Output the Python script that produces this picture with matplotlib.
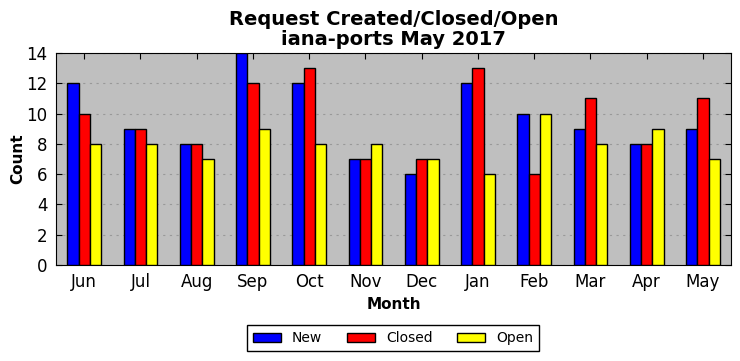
import numpy as np
import matplotlib
matplotlib.use("Agg")
import matplotlib.pyplot as plt

months = ["Jun", "Jul", "Aug", "Sep", "Oct", "Nov", "Dec", "Jan", "Feb", "Mar", "Apr", "May"]
new = [12, 9, 8, 14, 12, 7, 6, 12, 10, 9, 8, 9]
closed = [10, 9, 8, 12, 13, 7, 7, 13, 6, 11, 8, 11]
opened = [8, 8, 7, 9, 8, 8, 7, 6, 10, 8, 9, 7]

fig = plt.figure(figsize=(7.4, 3.61), dpi=100)
ax = fig.add_axes([56/740, 1-265/361, (731-56)/740, (265-53)/361])
ax.set_facecolor('#bfbfbf')

x = np.arange(len(months))
w = 0.2
ax.bar(x - w, new, w, color='blue', edgecolor='black', linewidth=1, label='New', zorder=3)
ax.bar(x, closed, w, color='red', edgecolor='black', linewidth=1, label='Closed', zorder=3)
ax.bar(x + w, opened, w, color='yellow', edgecolor='black', linewidth=1, label='Open', zorder=3)

ax.set_xlim(-0.5, len(months) - 0.5)
ax.set_ylim(0, 14)
ax.set_yticks(range(0, 15, 2))
ax.set_xticks(x)
ax.set_xticklabels(months)
ax.tick_params(direction='in', top=True, right=True, labelsize=12, length=4, pad=6)
ax.yaxis.grid(True, linestyle=(0, (2, 4)), color='#999999', linewidth=0.8, zorder=0)
ax.set_axisbelow(True)

ax.set_xlabel("Month", fontsize=11, fontweight='bold')
ax.set_ylabel("Count", fontsize=11, fontweight='bold', labelpad=1)
ax.set_title("Request Created/Closed/Open\niana-ports May 2017", fontsize=14, fontweight='bold', linespacing=1.05)

leg = fig.legend(loc='center', bbox_to_anchor=(393/740, 1-338/361), ncol=3, fontsize=10,
                 fancybox=False, edgecolor='black', framealpha=1, columnspacing=1.8,
                 handlelength=2.0, handleheight=0.6)
leg.get_frame().set_linewidth(1)

fig.savefig("out.png", dpi=100)
